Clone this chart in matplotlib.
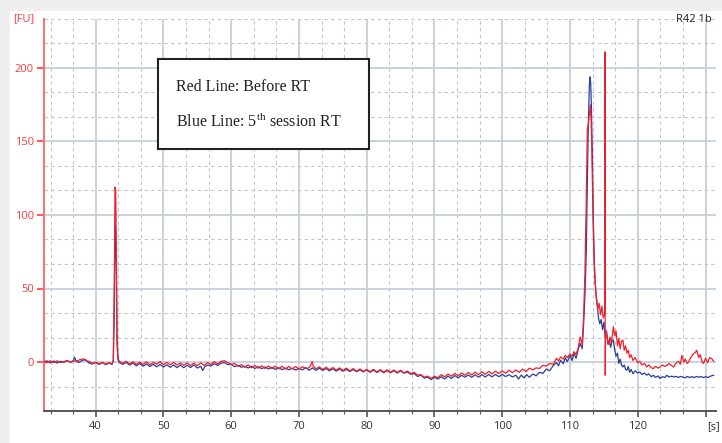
import matplotlib.pyplot as plt
from matplotlib.ticker import MultipleLocator
from matplotlib.patches import Rectangle

plt.rcParams["font.family"] = ["Open Sans", "DejaVu Sans"]
plt.rcParams["mathtext.fontset"] = "custom"
plt.rcParams["mathtext.rm"] = "Liberation Serif"

# Before RT (red trace): time [s], fluorescence [FU]
red_t = [
    32.3, 32.8, 33.3, 33.8, 34.3, 34.8, 35.3, 35.8, 36.3, 36.8, 37.3, 37.8, 38.3, 38.6, 39.0,
    39.5, 40.0, 40.5, 41.0, 41.5, 42.0, 42.4, 42.6, 42.75, 42.85, 42.95, 43.05, 43.15, 43.3,
    43.5, 44.0, 44.5, 45.0, 45.5, 46.0, 46.5, 47.0, 47.5, 48.0, 48.5, 49.0, 49.5, 50.0, 50.5,
    51.0, 51.5, 52.0, 52.5, 53.0, 53.5, 54.0, 54.5, 55.0, 55.5, 56.0, 56.5, 57.0, 57.5, 58.0,
    58.5, 59.0, 59.5, 60.0, 60.5, 61.0, 61.5, 62.0, 62.5, 63.0, 63.5, 64.0, 64.5, 65.0, 65.5,
    66.0, 66.5, 67.0, 67.5, 68.0, 68.5, 69.0, 69.5, 70.0, 70.5, 71.0, 71.5, 71.8, 71.95, 72.1,
    72.5, 73.0, 73.5, 74.0, 74.5, 75.0, 75.5, 76.0, 76.5, 77.0, 77.5, 78.0, 78.5, 79.0, 79.5,
    80.0, 80.5, 81.0, 81.5, 82.0, 82.5, 83.0, 83.5, 84.0, 84.5, 85.0, 85.5, 86.0, 86.5, 87.0,
    87.5, 88.0, 88.5, 89.0, 89.5, 90.0, 90.5, 91.0, 91.5, 92.0, 92.5, 93.0, 93.5, 94.0, 94.5,
    95.0, 95.5, 96.0, 96.5, 97.0, 97.5, 98.0, 98.5, 99.0, 99.5, 100.0, 100.5, 101.0, 101.5,
    102.0, 102.5, 103.0, 103.5, 104.0, 104.5, 105.0, 105.5, 106.0, 106.5, 107.0, 107.5, 108.0,
    108.3, 108.6, 109.0, 109.3, 109.6, 110.0, 110.3, 110.6, 110.9, 111.2, 111.5, 111.8, 112.0,
    112.2, 112.4, 112.55, 112.7, 112.85, 113.0, 113.1, 113.2, 113.35, 113.5, 113.7, 113.9,
    114.1, 114.3, 114.5, 114.7, 114.9, 115.1, 115.15, 115.2, 115.25, 115.5, 115.7, 115.9,
    116.1, 116.4, 116.6, 116.8, 117.0, 117.2, 117.4, 117.6, 117.8, 118.0, 118.2, 118.4, 118.6,
    118.8, 119.0, 119.3, 119.6, 120.0, 120.3, 120.6, 121.0, 121.3, 121.6, 122.0, 122.3, 122.6,
    123.0, 123.3, 123.6, 124.0, 124.3, 124.6, 125.0, 125.3, 125.6, 126.0, 126.3, 126.5, 126.8,
    127.0, 127.3, 127.5, 127.8, 128.2, 128.5, 128.7, 129.0, 129.2, 129.5, 129.7, 130.0, 130.3,
    130.6, 130.9, 131.2,
]
red_fu = [
    0.3, -0.6, 0.9, -0.5, 0.8, -0.4, 0.3, 1.0, -0.1, 0.7, 0.9, 1.8, 2.1, 0.8, 0.4,
    -0.9, -0.2, -1.1, -0.4, -1.3, -0.5, -1.4, 1.5, 55, 119, 117, 78, 18, 2.5,
    0.4, -0.9, 0.5, -1.4, 0.1, -1.6, -0.1, -1.7, 0.2, -1.9, -0.2, -1.5, 0.3, -1.8, -0.3,
    -1.9, -0.3, -2.0, -0.7, -2.2, -0.6, -2.4, -0.8, -2.5, -0.6, -2.3, -0.4, -1.7, 0.3, -1.4,
    0.4, 0.9, -0.4, -1.7, -0.9, -2.9, -1.8, -3.6, -2.0, -3.9, -2.4, -4.2, -2.6, -4.4, -2.7,
    -4.5, -2.8, -4.6, -2.9, -4.8, -3.0, -4.7, -3.1, -4.9, -3.2, -4.4, -3.9, -1.5, 0.2, -2.8,
    -4.6, -3.3, -5.1, -3.6, -5.2, -3.8, -5.5, -4.0, -5.7, -4.2, -6.0, -4.5, -6.2, -4.7, -6.4,
    -5.0, -6.6, -5.0, -6.8, -5.2, -6.9, -5.3, -7.0, -5.4, -7.1, -5.6, -7.4, -6.1, -7.9, -7.0,
    -8.9, -8.6, -10.3, -9.6, -11.2, -9.7, -10.6, -8.6, -10.1, -8.2, -9.6, -7.8, -9.3, -7.5, -9.0,
    -7.1, -8.8, -6.9, -8.6, -6.7, -8.4, -6.4, -8.2, -6.2, -7.9, -6.0, -7.7, -5.6, -7.3,
    -5.4, -7.0, -4.8, -6.5, -4.2, -5.4, -4.0, -4.4, -2.2, -2.9, -1.0, -1.6, 2.5,
    0.8, 3.5, 2.0, 4.5, 3.0, 5.5, 3.8, 7.0, 5.2, 9.5, 17, 12, 30,
    60, 110, 158, 162, 168, 175, 166, 150, 110, 75, 55, 42,
    36, 40, 32, 38, 30, 33, 211, -9, 22, 16, 12, 17,
    13, 24, 18, 21, 11, 16, 9, 14, 15, 8, 11, 6, 8,
    3, 5, 1, 3, -0.5, 0.5, -2.0, -1.0, -3.4, -2.0, -4.0, -4.5, -3.0,
    -4.2, -3.4, -2.0, -3.0, -2.3, -1.0, -2.5, -3.4, -1.0, 0.5, -1.5, 4.5, 0.0,
    2.0, -1.0, 0.0, 3.0, 5.5, 6.5, 8.0, 3.0, 5.0, 0.0, -1.0, 2.5, -0.5,
    3.0, 2.3, 0.5,
]

# 5th session RT (blue trace)
blue_t = [
    32.3, 32.8, 33.3, 33.8, 34.3, 34.8, 35.3, 35.8, 36.3, 36.7, 36.9, 37.1, 37.5, 38.0, 38.5,
    39.0, 39.5, 40.0, 40.5, 41.0, 41.5, 42.0, 42.4, 42.6, 42.75, 42.85, 42.95, 43.05, 43.15,
    43.3, 43.5, 44.0, 44.5, 45.0, 45.5, 46.0, 46.5, 47.0, 47.5, 48.0, 48.5, 49.0, 49.5, 50.0,
    50.5, 51.0, 51.5, 52.0, 52.5, 53.0, 53.5, 54.0, 54.5, 55.0, 55.5, 55.8, 56.1, 56.5, 57.0,
    57.5, 58.0, 58.5, 59.0, 59.5, 60.0, 60.5, 61.0, 61.5, 62.0, 62.5, 63.0, 63.5, 64.0, 64.5,
    65.0, 65.5, 66.0, 66.5, 67.0, 67.5, 68.0, 68.5, 69.0, 69.5, 70.0, 70.5, 71.0, 71.5, 72.0,
    72.5, 73.0, 73.5, 74.0, 74.5, 75.0, 75.5, 76.0, 76.5, 77.0, 77.5, 78.0, 78.5, 79.0, 79.5,
    80.0, 80.5, 81.0, 81.5, 82.0, 82.5, 83.0, 83.5, 84.0, 84.5, 85.0, 85.5, 86.0, 86.5, 87.0,
    87.5, 88.0, 88.5, 89.0, 89.5, 90.0, 90.5, 91.0, 91.5, 92.0, 92.5, 93.0, 93.5, 94.0, 94.5,
    95.0, 95.5, 96.0, 96.5, 97.0, 97.5, 98.0, 98.5, 99.0, 99.5, 100.0, 100.5, 101.0, 101.5,
    102.0, 102.4, 102.8, 103.2, 103.6, 104.0, 104.5, 105.0, 105.5, 106.0, 106.5, 107.0, 107.5,
    108.0, 108.3, 108.6, 109.0, 109.3, 109.6, 110.0, 110.3, 110.6, 110.9, 111.2, 111.5, 111.8,
    112.0, 112.2, 112.4, 112.55, 112.7, 112.85, 112.95, 113.05, 113.15, 113.3, 113.45, 113.6,
    113.8, 114.0, 114.2, 114.4, 114.6, 114.8, 115.0, 115.2, 115.4, 115.6, 115.8, 116.0, 116.2,
    116.4, 116.6, 116.8, 117.0, 117.2, 117.4, 117.6, 117.8, 118.0, 118.2, 118.4, 118.6, 118.8,
    119.0, 119.3, 119.6, 120.0, 120.3, 120.6, 121.0, 121.3, 121.6, 122.0, 122.3, 122.6, 123.0,
    123.3, 123.6, 124.0, 124.3, 124.6, 125.0, 125.3, 125.6, 126.0, 126.3, 126.6, 127.0, 127.3,
    127.6, 128.0, 128.3, 128.7, 129.0, 129.3, 129.7, 130.0, 130.4, 130.8, 131.2,
]
blue_fu = [
    0.0, 0.8, -0.6, 0.7, -0.7, 0.5, -0.2, 0.9, -0.3, 1.0, 3.2, 0.6, -0.3, 1.1, 1.6,
    -0.6, -1.4, -0.3, -1.6, -0.4, -1.8, -0.6, -1.7, 0.5, 35, 93, 88, 60, 12,
    1.5, -0.4, -1.6, -0.2, -2.1, -0.7, -2.6, -1.0, -2.9, -1.3, -3.1, -1.5, -3.3, -1.7, -3.4,
    -1.9, -3.6, -2.0, -3.8, -2.1, -3.9, -2.2, -3.8, -2.0, -4.1, -3.0, -5.8, -3.2, -2.0, -2.8,
    -1.1, -2.4, -0.8, -0.4, -1.8, -1.5, -3.2, -2.3, -3.6, -2.8, -4.1, -2.9, -4.4, -3.2, -4.5,
    -3.4, -4.7, -3.6, -5.0, -3.9, -5.2, -4.1, -5.3, -4.2, -5.5, -4.3, -5.4, -3.9, -5.6, -4.0,
    -5.7, -4.2, -5.8, -4.4, -6.0, -4.6, -6.2, -4.8, -6.3, -5.0, -6.5, -5.1, -6.6, -5.3, -6.8,
    -5.4, -7.0, -5.5, -7.2, -5.7, -7.3, -5.8, -7.4, -5.9, -7.5, -6.1, -7.6, -6.8, -8.4, -7.8,
    -9.8, -9.0, -11.0, -10.3, -12.0, -10.4, -11.6, -10.0, -11.5, -9.6, -11.2, -9.2, -10.8, -9.0, -10.4,
    -8.8, -10.4, -8.7, -10.3, -8.6, -10.2, -8.5, -10.1, -8.5, -10.0, -8.4, -9.9, -8.6, -10.2,
    -9.0, -11.6, -8.9, -10.8, -8.6, -10.4, -8.2, -9.4, -7.0, -7.8, -4.8, -5.9, -2.6,
    -0.4, -2.6, 1.2, -1.2, 2.8, 0.2, 4.5, 1.0, 6.0, 2.5, 8.5, 12.7, 9,
    25, 45, 75, 120, 160, 188, 194, 190, 175, 140, 95, 65,
    48, 40, 30, 26, 29, 22, 27, 17, 21, 12, 15, 10, 14,
    15, 8, 4, 6, -1, 2, -2, -3.4, -2, -5, -5.6, -3, -7,
    -5, -8, -6, -7.5, -6.8, -8.5, -7.5, -9, -8, -10, -9, -10.5, -9.5,
    -11.3, -10, -10.5, -9, -10.2, -9.6, -10.2, -9.8, -10.5, -9.8, -10.2, -10.8, -9.8,
    -10.5, -10.0, -10.6, -9.8, -10.4, -9.9, -10.6, -10.0, -10.5, -9.5, -9.0,
]

y_ticks = [0, 50, 100, 150, 200]
x_ticks = [40, 50, 60, 70, 80, 90, 100, 110, 120]
legend_lines = ["Red Line: Before RT", "Blue Line: 5$^{\\mathrm{th}}$ session RT"]

fig = plt.figure(figsize=(7.22, 4.43), dpi=100, facecolor="#efefef")
fig.patches.append(Rectangle((10 / 722, 0), 712 / 722, 432 / 443,
                             transform=fig.transFigure, facecolor="white",
                             edgecolor="none", zorder=-5))
ax = fig.add_axes([43.5 / 722, 1 - 411 / 443, (715.7 - 43.5) / 722, (411 - 19) / 443])
ax.set_facecolor("none")
ax.set_zorder(1)

ax.plot(blue_t, blue_fu, color="#2b3f9a", lw=0.9, zorder=3)
ax.plot(red_t, red_fu, color="#f0202a", lw=0.9, zorder=4)

ax.set_xlim(32.3, 131.5)
ax.set_ylim(-100 / 3, 700 / 3)
ax.set_xticks(x_ticks + [130])
ax.set_xticklabels([str(v) for v in x_ticks] + [""])
ax.set_yticks(y_ticks)
ax.set_yticklabels([str(v) for v in y_ticks])
ax.xaxis.set_minor_locator(MultipleLocator(10 / 3))
ax.yaxis.set_minor_locator(MultipleLocator(50 / 3))

ax.grid(which="major", color="#c6cfdb", lw=1.3, zorder=1)
ax.grid(which="minor", color="#c4c4c4", lw=0.8, ls=(0, (3, 3)), zorder=1)
ax.set_axisbelow(True)

for side in ("top", "right"):
    ax.spines[side].set_visible(False)
ax.spines["left"].set_color("#ff6b6b")
ax.spines["left"].set_linewidth(1.4)
ax.spines["bottom"].set_color("#555555")
ax.spines["bottom"].set_linewidth(1.4)

ax.tick_params(axis="y", which="major", colors="#ff3b3b", length=5, width=1.2,
               labelsize=8, pad=2)
ax.tick_params(axis="y", which="minor", length=0)
ax.tick_params(axis="x", which="major", colors="#555555", length=4, width=1.2,
               labelsize=8, pad=3, labelcolor="#333333")
ax.tick_params(axis="x", which="minor", colors="#555555", length=2, width=0.8)

# legend box sits above the axes
box_ax = fig.add_axes([158.3 / 722, 1 - 149 / 443, (369 - 158.3) / 722, 90 / 443])
box_ax.set_zorder(5)
box_ax.set_xticks([])
box_ax.set_yticks([])
box_ax.set_facecolor("white")
for sp in box_ax.spines.values():
    sp.set_color("#222222")
    sp.set_linewidth(1.5)

fig.text(13 / 722, 1 - 19 / 443, "[FU]", color="#ff3b3b", fontsize=8, va="center", ha="left")
fig.text(712 / 722, 1 - 19 / 443, "R42 1b", color="#222222", fontsize=8, va="center", ha="right")
fig.text(714 / 722, 1 - 427 / 443, "[s]", color="#333333", fontsize=8, va="center", ha="center")
for i, line in enumerate(legend_lines):
    box_ax.text((176 - 158.3) / (369 - 158.3), 1 - (87 + 35 * i - 59) / 90, line,
                transform=box_ax.transAxes, family="Liberation Serif",
                fontsize=11.5, color="#222222", va="center", ha="left")

fig.savefig("out.png", dpi=100, facecolor=fig.get_facecolor())
